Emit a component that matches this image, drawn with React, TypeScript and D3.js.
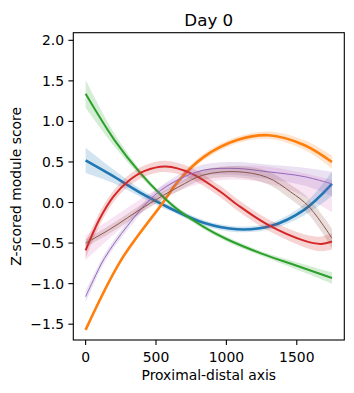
import React from 'react';
import * as d3 from 'd3';

// Smoothed module scores along the proximal-distal axis (Day 0)
const blueX = [0, 181, 419, 600, 838, 1076, 1314, 1552, 1750];
const blueY = [0.52, 0.34, 0.09, -0.07, -0.25, -0.33, -0.29, -0.09, 0.23];
const blueCi = [0.155, 0.09, 0.045, 0.035, 0.035, 0.035, 0.04, 0.07, 0.15];

const orangeX = [0, 252, 550, 657, 838, 1076, 1300, 1552, 1750];
const orangeY = [-1.57, -0.71, 0.0, 0.26, 0.56, 0.77, 0.83, 0.71, 0.5];
const orangeCi = [0.03, 0.03, 0.03, 0.035, 0.04, 0.04, 0.045, 0.06, 0.08];

const greenX = [0, 205, 395, 538, 657, 838, 1000, 1250, 1500, 1750];
const greenY = [1.34, 0.77, 0.35, 0.09, -0.09, -0.3, -0.45, -0.63, -0.78, -0.93];
const greenCi = [0.17, 0.08, 0.04, 0.03, 0.03, 0.03, 0.03, 0.03, 0.045, 0.07];

const redX = [0, 100, 200, 300, 420, 570, 750, 960, 1080, 1290, 1552, 1671, 1750];
const redY = [-0.59, -0.2, 0.08, 0.26, 0.39, 0.445, 0.36, 0.13, -0.03, -0.27, -0.47, -0.51, -0.48];
const redCi = [0.1, 0.08, 0.07, 0.07, 0.07, 0.07, 0.07, 0.07, 0.07, 0.07, 0.08, 0.09, 0.1];

const purpleX = [0, 57, 133, 300, 490, 657, 838, 1076, 1290, 1552, 1750];
const purpleY = [-1.16, -0.95, -0.69, -0.28, 0.09, 0.28, 0.4, 0.42, 0.38, 0.32, 0.23];
const purpleCi = [0.07, 0.06, 0.05, 0.05, 0.05, 0.06, 0.07, 0.08, 0.09, 0.11, 0.15];

const brownX = [0, 181, 419, 657, 838, 1076, 1290, 1457, 1586, 1750];
const brownY = [-0.5, -0.32, -0.05, 0.19, 0.34, 0.38, 0.31, 0.13, -0.05, -0.44];
const brownCi = [0.05, 0.05, 0.05, 0.05, 0.06, 0.07, 0.08, 0.09, 0.1, 0.12];

// extra pink interval with no visible mean line
const pinkX = [0, 250, 500, 750, 1000, 1250, 1500, 1750];
const pinkY = [-0.56, -0.22, 0.08, 0.28, 0.36, 0.35, 0.25, 0.08];
const pinkCi = [0.15, 0.1, 0.08, 0.08, 0.08, 0.1, 0.13, 0.2];

const xTicks = [0, 500, 1000, 1500];
const yTicks = [-1.5, -1.0, -0.5, 0.0, 0.5, 1.0, 1.5, 2.0];

type Series = { xs: number[]; ys: number[]; ci: number[]; color: string; lw: number };

const series: Series[] = [
  { xs: blueX, ys: blueY, ci: blueCi, color: '#1f77b4', lw: 2.6 },
  { xs: orangeX, ys: orangeY, ci: orangeCi, color: '#ff7f0e', lw: 2.6 },
  { xs: greenX, ys: greenY, ci: greenCi, color: '#2ca02c', lw: 2 },
  { xs: redX, ys: redY, ci: redCi, color: '#d62728', lw: 2 },
  { xs: purpleX, ys: purpleY, ci: purpleCi, color: '#9467bd', lw: 1 },
  { xs: brownX, ys: brownY, ci: brownCi, color: '#8c564b', lw: 1 },
];

const W = 354;
const H = 393;
const plot = { left: 73.3, right: 344.3, top: 32.7, bottom: 340 };
const tickLen = 4.9;

const App: React.FC = () => {
  const x = d3.scaleLinear().domain([-87.5, 1837.5]).range([plot.left, plot.right]);
  const y = d3.scaleLinear().domain([-1.695, 2.094]).range([plot.bottom, plot.top]);
  const fmt = d3.format('.1f');
  const curve = d3.curveCatmullRom.alpha(0.5);

  const band = (s: { xs: number[]; ys: number[]; ci: number[] }) =>
    d3
      .area<number>()
      .x((i) => x(s.xs[i]))
      .y0((i) => y(s.ys[i] - s.ci[i]))
      .y1((i) => y(s.ys[i] + s.ci[i]))
      .curve(curve)(d3.range(s.xs.length)) || '';

  const line = (s: Series) =>
    d3
      .line<number>()
      .x((i) => x(s.xs[i]))
      .y((i) => y(s.ys[i]))
      .curve(curve)(d3.range(s.xs.length)) || '';

  const font = 'DejaVu Sans, sans-serif';
  const cx = (plot.left + plot.right) / 2;

  return (
    <svg
      width={W}
      height={H}
      style={{ position: 'absolute', left: 0, top: 0, background: '#fff' }}
      fontFamily={font}
    >
      <rect width={W} height={H} fill="#fff" />
      <defs>
        <clipPath id="plot-clip">
          <rect x={plot.left} y={plot.top} width={plot.right - plot.left} height={plot.bottom - plot.top} />
        </clipPath>
      </defs>

      <g clipPath="url(#plot-clip)">
        <path d={band({ xs: pinkX, ys: pinkY, ci: pinkCi })} fill="#e377c2" fillOpacity={0.2} />
        {series.map((s, k) => (
          <g key={k}>
            <path d={band(s)} fill={s.color} fillOpacity={0.2} />
            <path d={line(s)} fill="none" stroke={s.color} strokeWidth={s.lw} />
          </g>
        ))}
      </g>

      {/* frame */}
      <rect
        x={plot.left}
        y={plot.top}
        width={plot.right - plot.left}
        height={plot.bottom - plot.top}
        fill="none"
        stroke="#000"
        strokeWidth={1.1}
      />

      {/* x axis */}
      {xTicks.map((t) => (
        <g key={t} transform={`translate(${x(t)},${plot.bottom})`}>
          <line y2={tickLen} stroke="#000" strokeWidth={1.1} />
          <text y={21.7} textAnchor="middle" fontSize={13.9} fill="#000">
            {t}
          </text>
        </g>
      ))}
      <text x={cx} y={380} textAnchor="middle" fontSize={13.9} fill="#000">
        Proximal-distal axis
      </text>

      {/* y axis */}
      {yTicks.map((t) => (
        <g key={t} transform={`translate(${plot.left},${y(t)})`}>
          <line x2={-tickLen} stroke="#000" strokeWidth={1.1} />
          <text x={-tickLen - 4.4} dy="0.36em" textAnchor="end" fontSize={13.9} fill="#000">
            {fmt(t)}
          </text>
        </g>
      ))}
      <text
        transform={`translate(21,${(plot.top + plot.bottom) / 2}) rotate(-90)`}
        textAnchor="middle"
        fontSize={13.9}
        fill="#000"
      >
        Z-scored module score
      </text>

      <text x={cx} y={25.5} textAnchor="middle" fontSize={16.7} fill="#000">
        Day 0
      </text>
    </svg>
  );
};

export default App;
